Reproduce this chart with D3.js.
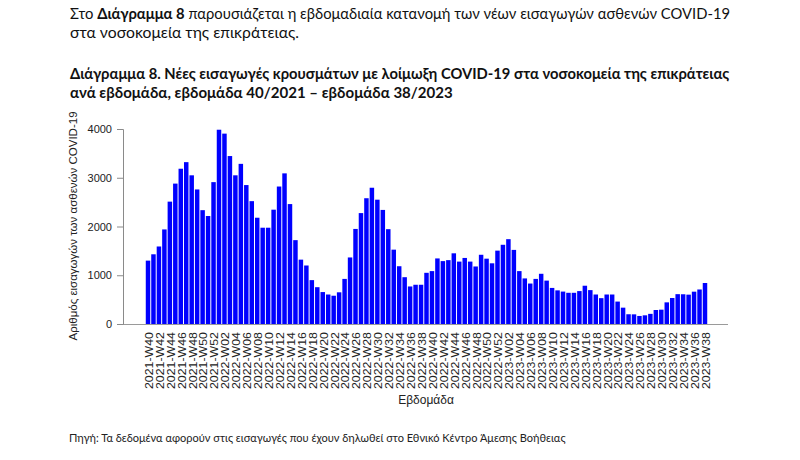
<!DOCTYPE html>
<html><head><meta charset="utf-8">
<script src="https://cdn.jsdelivr.net/npm/d3@7"></script>
<style>body{margin:0;background:#fff;}svg{display:block;}</style>
</head><body>
<svg id="c" width="800" height="460"></svg>
<script>
const weeks = [
"2021-W40","2021-W41","2021-W42","2021-W43","2021-W44","2021-W45","2021-W46","2021-W47","2021-W48","2021-W49","2021-W50","2021-W51","2021-W52",
"2022-W01","2022-W02","2022-W03","2022-W04","2022-W05","2022-W06","2022-W07","2022-W08","2022-W09","2022-W10","2022-W11","2022-W12","2022-W13",
"2022-W14","2022-W15","2022-W16","2022-W17","2022-W18","2022-W19","2022-W20","2022-W21","2022-W22","2022-W23","2022-W24","2022-W25","2022-W26",
"2022-W27","2022-W28","2022-W29","2022-W30","2022-W31","2022-W32","2022-W33","2022-W34","2022-W35","2022-W36","2022-W37","2022-W38","2022-W39",
"2022-W40","2022-W41","2022-W42","2022-W43","2022-W44","2022-W45","2022-W46","2022-W47","2022-W48","2022-W49","2022-W50","2022-W51","2022-W52",
"2023-W01","2023-W02","2023-W03","2023-W04","2023-W05","2023-W06","2023-W07","2023-W08","2023-W09","2023-W10","2023-W11","2023-W12","2023-W13",
"2023-W14","2023-W15","2023-W16","2023-W17","2023-W18","2023-W19","2023-W20","2023-W21","2023-W22","2023-W23","2023-W24","2023-W25","2023-W26",
"2023-W27","2023-W28","2023-W29","2023-W30","2023-W31","2023-W32","2023-W33","2023-W34","2023-W35","2023-W36","2023-W37","2023-W38"
];
const admissions = [
1300,1430,1590,1940,2510,2880,3185,3320,3050,2760,2335,2215,2910,
3985,3905,3445,3050,3285,2850,2520,2180,1975,1975,2345,2820,3090,
2460,1720,1320,1200,900,755,655,605,580,650,925,1365,1950,
2275,2580,2795,2550,2340,1945,1525,1185,960,770,805,805,1050,
1085,1345,1290,1310,1450,1280,1355,1280,1180,1420,1340,1245,1505,
1625,1740,1520,1085,935,830,925,1030,890,740,690,665,640,
640,675,785,695,605,530,605,605,460,335,200,198,165,
178,208,287,294,444,533,612,610,602,663,708,841
];
const yTicks = [0,1000,2000,3000,4000];
const introLine1 = ["Στο ", "Διάγραμμα 8", " παρουσιάζεται η εβδομαδιαία κατανομή των νέων εισαγωγών ασθενών COVID-19"];
const introLine2 = "στα νοσοκομεία της επικράτειας.";
const titleLine1 = "Διάγραμμα 8. Νέες εισαγωγές κρουσμάτων με λοίμωξη COVID-19 στα νοσοκομεία της επικράτειας";
const titleLine2 = "ανά εβδομάδα, εβδομάδα 40/2021 – εβδομάδα 38/2023";
const yTitle = "Αριθμός εισαγωγών των ασθενών COVID-19";
const xTitle = "Εβδομάδα";
const source = "Πηγή: Τα δεδομένα αφορούν στις εισαγωγές που έχουν δηλωθεί στο Εθνικό Κέντρο Άμεσης Βοήθειας";

const svg = d3.select("#c");
const docFont = "Lato, 'Noto Sans', sans-serif";
const chartFont = "'Liberation Sans', Arial, sans-serif";

function fitWidth(sel, x0, target){
  const w = sel.node().getBBox().width;
  const k = target / w;
  sel.attr("transform", `translate(${x0},0) scale(${k},1) translate(${-x0},0)`);
}

// intro paragraph
const t1 = svg.append("text").attr("x",70).attr("y",19).attr("font-family",docFont).attr("font-size",15).attr("fill","#111");
introLine1.forEach((s,i)=>t1.append("tspan").attr("font-weight", i===1?"bold":"normal").text(s));
fitWidth(t1,70,661);
const t2 = svg.append("text").attr("x",70).attr("y",38).attr("font-family",docFont).attr("font-size",15).attr("fill","#111").text(introLine2);
fitWidth(t2,70,229);

// title
const tt1 = svg.append("text").attr("x",70).attr("y",79).attr("font-family",docFont).attr("font-size",15).attr("font-weight","bold").attr("fill","#111").text(titleLine1);
fitWidth(tt1,70,660);
const tt2 = svg.append("text").attr("x",70).attr("y",98).attr("font-family",docFont).attr("font-size",15).attr("font-weight","bold").attr("fill","#111").text(titleLine2);
fitWidth(tt2,70,383);

// scales
const x = d3.scaleBand().domain(weeks).range([145.5,707.5]).paddingInner(0.18).paddingOuter(0.05);
const y = d3.scaleLinear().domain([0,4000]).range([324,129]);

// bars
svg.append("g").selectAll("rect").data(weeks).join("rect")
  .attr("x", d=>x(d)).attr("width", x.bandwidth())
  .attr("y", (d,i)=>y(admissions[i])).attr("height", (d,i)=>y(0)-y(admissions[i]))
  .attr("fill","#0000ff");

// baseline
svg.append("line").attr("x1",118).attr("x2",728).attr("y1",324.5).attr("y2",324.5)
  .attr("stroke","#9a9a9a").attr("stroke-width",1);

// y axis
const ya = svg.append("g").attr("transform","translate(123,0)")
  .call(d3.axisLeft(y).tickValues(yTicks).tickSize(6).tickPadding(5).tickFormat(d3.format("d")));
ya.select(".domain").attr("stroke","#8a8a8a");
ya.selectAll(".tick line").attr("stroke","#8a8a8a");
ya.selectAll("text").attr("font-family",chartFont).attr("font-size",11).attr("fill","#222");

// x labels
const xa = svg.append("g").attr("transform","translate(0,326)")
  .call(d3.axisBottom(x).tickValues(weeks.filter((d,i)=>i%2===0)).tickSize(0).tickPadding(0));
xa.select(".domain").remove();
xa.selectAll("text")
  .attr("font-family",chartFont).attr("font-size",11).attr("fill","#222")
  .attr("text-anchor","end").attr("dy","0.35em")
  .attr("transform","translate(1,6) rotate(-90)")
  .attr("x",0).attr("y",0)
  .attr("textLength",57).attr("lengthAdjust","spacingAndGlyphs");

// axis titles
svg.append("text").attr("transform","translate(77,226) rotate(-90)").attr("text-anchor","middle")
  .attr("font-family",chartFont).attr("font-size",11.5).attr("fill","#222").text(yTitle);
svg.append("text").attr("x",426).attr("y",404).attr("text-anchor","middle")
  .attr("font-family",chartFont).attr("font-size",12).attr("fill","#222").text(xTitle);

// source
const src = svg.append("text").attr("x",69).attr("y",442).attr("font-family",docFont).attr("font-size",11).attr("fill","#222").text(source);
fitWidth(src,69,497);
</script>
</body></html>
